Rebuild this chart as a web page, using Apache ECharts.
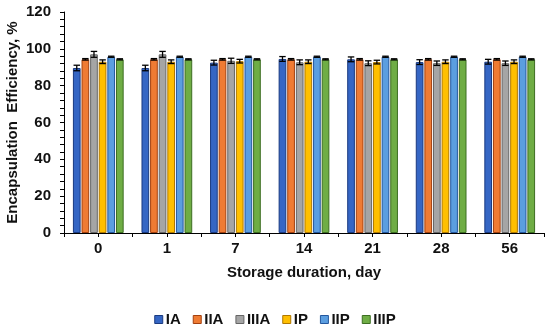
<!DOCTYPE html>
<html>
<head>
<meta charset="utf-8">
<script src="https://cdn.jsdelivr.net/npm/echarts@6/dist/echarts.min.js"></script>
<style>html,body{margin:0;padding:0;background:#fff;}#c{width:550px;height:328px;}</style>
</head>
<body>
<div id="c"></div>
<script>
const categories = ['0', '1', '7', '14', '21', '28', '56'];
const seriesNames = ['IA', 'IIA', 'IIIA', 'IP', 'IIP', 'IIIP'];
const IA = [89.6, 89.6, 92.5, 94.5, 94.3, 92.8, 93.0];
const IIA = [94.3, 94.3, 94.3, 94.3, 94.3, 94.3, 94.3];
const IIIA = [97.0, 97.0, 93.5, 92.7, 92.2, 92.2, 92.2];
const IP = [93.0, 93.0, 93.3, 93.0, 92.8, 93.0, 93.0];
const IIP = [95.7, 95.7, 95.7, 95.7, 95.7, 95.7, 95.7];
const IIIP = [94.3, 94.3, 94.3, 94.3, 94.3, 94.3, 94.3];
const IA_err = [1.5, 1.5, 1.3, 1.3, 1.3, 1.3, 1.3];
const IIA_err = [0.4, 0.4, 0.4, 0.4, 0.4, 0.4, 0.4];
const IIIA_err = [1.6, 1.6, 1.4, 1.3, 1.3, 1.2, 1.2];
const IP_err = [1.0, 1.0, 1.0, 1.0, 1.0, 1.0, 1.0];
const IIP_err = [0.3, 0.3, 0.3, 0.3, 0.3, 0.3, 0.3];
const IIIP_err = [0.3, 0.3, 0.3, 0.3, 0.3, 0.3, 0.3];
const yTicks = [0, 20, 40, 60, 80, 100, 120];

const values = [IA, IIA, IIIA, IP, IIP, IIIP];
const errs = [IA_err, IIA_err, IIIA_err, IP_err, IIP_err, IIIP_err];
const colors = ['#3566c4', '#ef7b33', '#a5a5a5', '#ffbf00', '#5b9ee0', '#6fad45'];
const borders = ['#1a3a80', '#a3400f', '#666666', '#b07800', '#24579e', '#3d6e22'];

const CAT_GAP = 0.26, BAR_GAP = 0.12, N = 6;
const FONT = 'Liberation Sans, Arial, sans-serif';

const series = [];
values.forEach((v, si) => {
  series.push({
    name: seriesNames[si], type: 'bar', data: v,
    barCategoryGap: (CAT_GAP * 100) + '%', barGap: (BAR_GAP * 100) + '%',
    itemStyle: { color: colors[si], borderColor: borders[si], borderWidth: 1 },
    emphasis: { disabled: true }
  });
});
values.forEach((v, si) => {
  series.push({
    name: seriesNames[si], type: 'custom', z: 5,
    data: v.map((val, i) => [i, val, errs[si][i]]),
    encode: { x: 0, y: 1 },
    renderItem: function (params, api) {
      const idx = api.value(0), val = api.value(1), e = api.value(2);
      const bandW = api.size([1, 0])[0];
      const groupW = bandW * (1 - CAT_GAP);
      const b = groupW / (N + (N - 1) * BAR_GAP);
      const off = -groupW / 2 + si * b * (1 + BAR_GAP) + b / 2;
      const t = api.coord([idx, val + e]);
      const bt = api.coord([idx, val - e]);
      const x = t[0] + off;
      const hw = b * 0.42;
      const st = { stroke: '#000', lineWidth: 1.3 };
      return {
        type: 'group', children: [
          { type: 'line', shape: { x1: x, y1: t[1], x2: x, y2: bt[1] }, style: st },
          { type: 'line', shape: { x1: x - hw, y1: t[1], x2: x + hw, y2: t[1] }, style: st },
          { type: 'line', shape: { x1: x - hw, y1: bt[1], x2: x + hw, y2: bt[1] }, style: st }
        ]
      };
    }
  });
});

const chart = echarts.init(document.getElementById('c'), null, { renderer: 'canvas' });
chart.setOption({
  animation: false,
  backgroundColor: '#fff',
  grid: { left: 64, right: 6, top: 12, bottom: 95, containLabel: false, outerBoundsMode: 'none' },
  legend: {
    data: seriesNames.map((n, i) => ({ name: n, itemStyle: { color: colors[i], borderColor: borders[i], borderWidth: 1 } })),
    bottom: -4, left: 'center', icon: 'rect', itemWidth: 8, itemHeight: 8, itemGap: 12,
    textStyle: { fontFamily: FONT, fontWeight: 'bold', fontSize: 15, color: '#111', padding: [0, 0, 0, -2] }
  },
  xAxis: [{
    type: 'category', data: categories,
    name: 'Storage duration, day', nameLocation: 'middle', nameGap: 32, nameMoveOverlap: false,
    nameTextStyle: { fontFamily: FONT, fontWeight: 'bold', fontSize: 15, color: '#111' },
    axisLine: { lineStyle: { color: '#000', width: 1 } },
    axisTick: { show: true, length: 4, lineStyle: { color: '#000' } },
    axisLabel: { fontFamily: FONT, fontWeight: 'bold', fontSize: 15, color: '#111', margin: 8 },
    splitLine: { show: false }
  }, {
    type: 'category', data: categories, position: 'bottom',
    axisLine: { show: false },
    axisTick: { show: true, alignWithLabel: true, length: 4, lineStyle: { color: '#000' } },
    axisLabel: { show: false }, splitLine: { show: false }
  }],
  yAxis: {
    type: 'value', min: yTicks[0], max: yTicks[yTicks.length - 1], interval: 20,
    name: 'Encapsulation  Efficiency, %', nameLocation: 'middle', nameGap: 44, nameMoveOverlap: false,
    nameTextStyle: { fontFamily: FONT, fontWeight: 'bold', fontSize: 15, color: '#111' },
    axisLine: { show: true, lineStyle: { color: '#000', width: 1 } },
    axisTick: { show: true, length: 4, lineStyle: { color: '#000' } },
    minorTick: { show: true, splitNumber: 5, length: 4, lineStyle: { color: '#000' } },
    axisLabel: { fontFamily: FONT, fontWeight: 'bold', fontSize: 15, color: '#111', margin: 13 },
    splitLine: { show: false }, minorSplitLine: { show: false }
  },
  series: series
});
</script>
</body>
</html>
